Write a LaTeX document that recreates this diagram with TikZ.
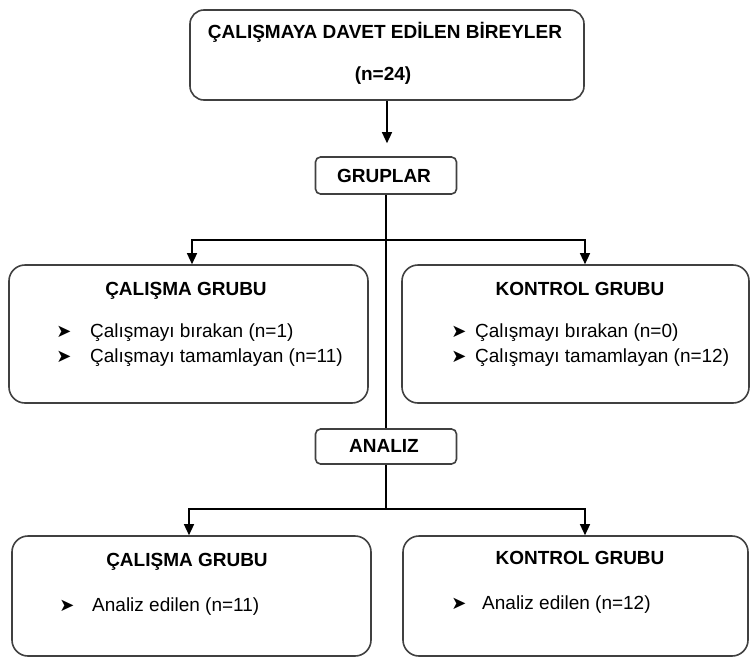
\documentclass[tikz,border=0pt]{standalone}
\usepackage{fontspec}
\setmainfont{Liberation Sans}
\newfontfamily\dejavu{DejaVu Sans}
\usetikzlibrary{arrows.meta}
\begin{document}
\begin{tikzpicture}[x=1pt,y=-1pt,
  box/.style={draw=black!75, line width=1.6pt, rounded corners=16pt, inner sep=0pt},
  sbox/.style={draw=black!75, line width=1.6pt, rounded corners=5pt, inner sep=0pt},
  conn/.style={line width=1.3pt, draw=black},
  arr/.style={conn, -{Triangle[width=10pt,length=11pt]}},
  ttl/.style={font=\fontsize{19}{22}\selectfont\bfseries, inner sep=0pt, anchor=base},
  itm/.style={font=\fontsize{19}{22}\selectfont, inner sep=0pt, anchor=base west},
  bul/.style={font=\dejavu\fontsize{18}{20}\selectfont, inner sep=0pt, anchor=center}
]
\useasboundingbox (0,0) rectangle (750,659);

% boxes
\node[box, rounded corners=14pt, minimum width=394pt, minimum height=90pt] (top) at (387,55) {};
\node[sbox, minimum width=141pt, minimum height=37pt] (grp) at (386,175.5) {};
\node[box, minimum width=359pt, minimum height=138pt] (ml) at (188.5,334) {};
\node[box, minimum width=347pt, minimum height=138pt] (mr) at (575.5,334) {};
\node[sbox, minimum width=141pt, minimum height=35pt] (an) at (386,446.5) {};
\node[box, minimum width=359pt, minimum height=120pt] (bl) at (191.5,596) {};
\node[box, minimum width=345pt, minimum height=120pt] (br) at (575.5,596) {};

% texts
\node[ttl] (t1) at (385,38) {ÇALIŞMAYA DAVET EDİLEN BİREYLER};
\node[ttl] (t2) at (383,80) {(n=24)};
\node[ttl] (grpt) at (384,182) {GRUPLAR};

\node[ttl] (mlt) at (186,295) {ÇALIŞMA GRUBU};
\node[bul] (mlb1) at (64,332) {➤};
\node[itm] (mli1) at (90,337) {Çalışmayı bırakan (n=1)};
\node[bul] (mlb2) at (64,357) {➤};
\node[itm] (mli2) at (90,362) {Çalışmayı tamamlayan (n=11)};

\node[ttl] (mrt) at (580,295) {KONTROL GRUBU};
\node[bul] (mrb1) at (459,332) {➤};
\node[itm] (mri1) at (475,337) {Çalışmayı bırakan (n=0)};
\node[bul] (mrb2) at (459,357) {➤};
\node[itm] (mri2) at (475,362) {Çalışmayı tamamlayan (n=12)};

\node[ttl] (ant) at (384,452) {ANALIZ};

\node[ttl] (blt) at (187,566) {ÇALIŞMA GRUBU};
\node[bul] (blb1) at (67,606) {➤};
\node[itm] (bli1) at (92,611) {Analiz edilen (n=11)};

\node[ttl] (brt) at (580,564) {KONTROL GRUBU};
\node[bul] (brb1) at (459,604) {➤};
\node[itm] (bri1) at (482,609) {Analiz edilen (n=12)};

% connectors
\coordinate (j1) at (386,240);
\coordinate (j2) at (386,509);
\draw[arr, shorten >=13pt] (top.south) -- (top.south |- grp.north);
\draw[conn] (grp.south) -- (an.north);
\draw[arr] (j1) -| ([xshift=3.5pt]ml.north);
\draw[arr] (j1) -| ([xshift=9.5pt]mr.north);
\draw[conn] (an.south) -- (j2);
\draw[arr] (j2) -| ([xshift=-2.5pt]bl.north);
\draw[arr] (j2) -| ([xshift=9.5pt]br.north);
\end{tikzpicture}
\end{document}
